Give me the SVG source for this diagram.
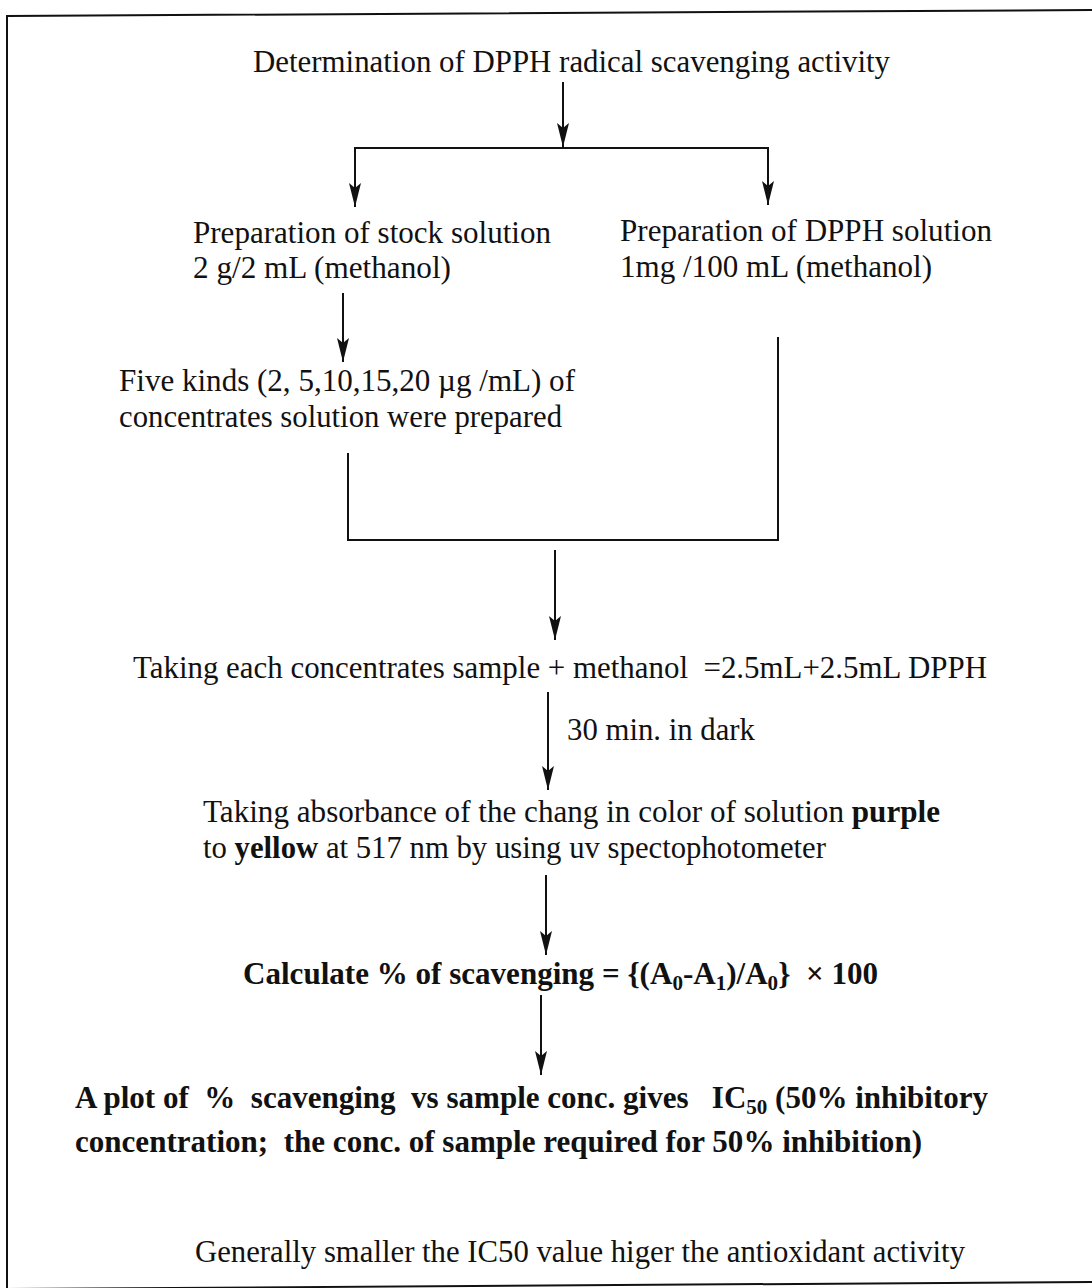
<svg xmlns="http://www.w3.org/2000/svg" width="1092" height="1288" viewBox="0 0 1092 1288">
<style>
.t{font-family:"Liberation Serif","Times New Roman",serif;font-size:31px;fill:#111}
.b{font-weight:bold}
.ln{stroke:#111;stroke-width:2;fill:none}
</style>
<defs>
<marker id="ad" markerUnits="userSpaceOnUse" markerWidth="24" markerHeight="12" refX="24" refY="6" orient="auto" viewBox="0 0 24 12">
<path d="M0,0 L24,6 L0,12 L5,6 Z" fill="#111"/>
</marker>
</defs>
<rect width="1092" height="1288" fill="#fff"/>
<g id="frame">
<polyline class="ln" points="7,1290 7,16 1092,10" stroke-width="2.5"/>
<line class="ln" x1="7" y1="1289" x2="1092" y2="1282" stroke-width="2.5"/>
</g>
<g id="connectors">
<line class="ln" x1="563" y1="82" x2="563" y2="147" marker-end="url(#ad)"/>
<polyline class="ln" points="355,180 355,148 768,148 768,180"/>
<line class="ln" x1="355" y1="180" x2="355" y2="207" marker-end="url(#ad)"/>
<line class="ln" x1="768" y1="180" x2="768" y2="205" marker-end="url(#ad)"/>
<line class="ln" x1="343" y1="293" x2="343" y2="362" marker-end="url(#ad)"/>
<polyline class="ln" points="348,453 348,540 778,540 778,337"/>
<line class="ln" x1="555" y1="550" x2="555" y2="640" marker-end="url(#ad)"/>
<line class="ln" x1="548" y1="692" x2="548" y2="790" marker-end="url(#ad)"/>
<line class="ln" x1="546" y1="875" x2="546" y2="955" marker-end="url(#ad)"/>
<line class="ln" x1="541" y1="995" x2="541" y2="1075" marker-end="url(#ad)"/>
</g>
<g id="n-title"><text class="t" x="253" y="72" textLength="637" lengthAdjust="spacingAndGlyphs">Determination of DPPH radical scavenging activity</text></g>
<g id="n-stock">
<text class="t" x="193" y="243" textLength="358" lengthAdjust="spacingAndGlyphs">Preparation of stock solution</text>
<text class="t" x="193" y="278" textLength="258" lengthAdjust="spacingAndGlyphs">2 g/2 mL (methanol)</text>
</g>
<g id="n-dpph">
<text class="t" x="620" y="241" textLength="372" lengthAdjust="spacingAndGlyphs">Preparation of DPPH solution</text>
<text class="t" x="620" y="277" textLength="312" lengthAdjust="spacingAndGlyphs">1mg /100 mL (methanol)</text>
</g>
<g id="n-five">
<text class="t" x="119" y="391" textLength="456" lengthAdjust="spacingAndGlyphs">Five kinds (2, 5,10,15,20 µg /mL) of</text>
<text class="t" x="119" y="427" textLength="443" lengthAdjust="spacingAndGlyphs">concentrates solution were prepared</text>
</g>
<g id="n-taking">
<text class="t" x="133" y="678" textLength="854" lengthAdjust="spacingAndGlyphs" xml:space="preserve">Taking each concentrates sample + methanol  =2.5mL+2.5mL DPPH</text>
</g>
<g id="l-dark"><text class="t" x="567" y="740" textLength="188" lengthAdjust="spacingAndGlyphs">30 min. in dark</text></g>
<g id="n-absorb">
<text class="t" x="203" y="822" textLength="737" lengthAdjust="spacingAndGlyphs">Taking absorbance of the chang in color of solution <tspan class="b">purple</tspan></text>
<text class="t" x="203" y="858" textLength="623" lengthAdjust="spacingAndGlyphs">to <tspan class="b">yellow</tspan> at 517 nm by using uv spectophotometer</text>
</g>
<g id="n-calc">
<text class="t b" x="243" y="984" textLength="635" lengthAdjust="spacingAndGlyphs" xml:space="preserve">Calculate % of scavenging = {(A<tspan font-size="21" dy="6">0</tspan><tspan dy="-6">-A</tspan><tspan font-size="21" dy="6">1</tspan><tspan dy="-6">)/A</tspan><tspan font-size="21" dy="6">0</tspan><tspan dy="-6">}  × 100</tspan></text>
</g>
<g id="n-plot">
<text class="t b" x="75" y="1108" textLength="913" lengthAdjust="spacingAndGlyphs" xml:space="preserve">A plot of  %  scavenging  vs sample conc. gives   IC<tspan font-size="21" dy="6">50</tspan><tspan dy="-6"> (50% inhibitory</tspan></text>
<text class="t b" x="75" y="1152" textLength="847" lengthAdjust="spacingAndGlyphs" xml:space="preserve">concentration;  the conc. of sample required for 50% inhibition)</text>
</g>
<g id="n-general"><text class="t" x="195" y="1262" textLength="770" lengthAdjust="spacingAndGlyphs">Generally smaller the IC50 value higer the antioxidant activity</text></g>
</svg>
